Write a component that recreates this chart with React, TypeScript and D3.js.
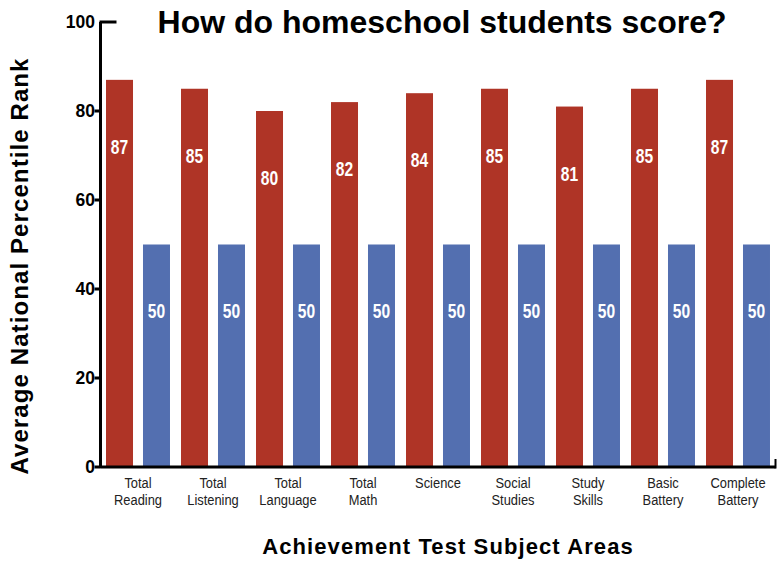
import React, { useEffect, useRef } from "react";
import * as d3 from "d3";

const categories = [
  ["Total", "Reading"],
  ["Total", "Listening"],
  ["Total", "Language"],
  ["Total", "Math"],
  ["Science"],
  ["Social", "Studies"],
  ["Study", "Skills"],
  ["Basic", "Battery"],
  ["Complete", "Battery"],
];
const homeschoolScores = [87, 85, 80, 82, 84, 85, 81, 85, 87];
const nationalScores = [50, 50, 50, 50, 50, 50, 50, 50, 50];
const seriesKeys = ["homeschool", "national"];
const seriesColors = ["#AF3426", "#536FB0"];
const yTicks = [0, 20, 40, 60, 80, 100];

const FONT = "'Liberation Sans', Arial, Helvetica, sans-serif";

const App = () => {
  const svgRef = useRef<SVGSVGElement>(null);

  useEffect(() => {
    const svg = d3.select(svgRef.current);
    svg.selectAll("*").remove();

    const width = 779;
    const height = 563;
    const margin = { top: 22, right: 3.5, bottom: 96, left: 100.5 };
    const x0 = margin.left;
    const x1 = width - margin.right;
    const yBottom = height - margin.bottom;

    const keys = categories.map((c) => c.join(" "));

    const xScale = d3
      .scaleBand()
      .domain(keys)
      .range([x0, x1])
      .paddingInner(0.147)
      .paddingOuter(0.0735);

    const xSub = d3
      .scaleBand()
      .domain(seriesKeys)
      .range([0, xScale.bandwidth()])
      .paddingInner(0.27);

    const yScale = d3.scaleLinear().domain([0, 100]).range([yBottom, margin.top]);

    const rows = keys.map((k, i) => ({
      key: k,
      values: [homeschoolScores[i], nationalScores[i]],
    }));

    // bars
    const groups = svg
      .selectAll("g.group")
      .data(rows)
      .enter()
      .append("g")
      .attr("class", "group")
      .attr("transform", (d) => `translate(${xScale(d.key)},0)`);

    groups
      .selectAll("rect")
      .data((d) => d.values.map((v, j) => ({ s: seriesKeys[j], v, j })))
      .enter()
      .append("rect")
      .attr("x", (d) => xSub(d.s)!)
      .attr("y", (d) => yScale(d.v))
      .attr("width", xSub.bandwidth())
      .attr("height", (d) => yBottom - yScale(d.v))
      .attr("fill", (d) => seriesColors[d.j]);

    // value labels inside bars (condensed look via horizontal scale)
    groups
      .selectAll("text.val")
      .data((d) => d.values.map((v, j) => ({ s: seriesKeys[j], v })))
      .enter()
      .append("text")
      .attr("class", "val")
      .attr(
        "transform",
        (d) =>
          `translate(${xSub(d.s)! + xSub.bandwidth() / 2},${yScale(d.v - 15)}) scale(0.78,1)`
      )
      .attr("dy", "0.36em")
      .attr("text-anchor", "middle")
      .attr("fill", "#fff")
      .attr("font-family", FONT)
      .attr("font-weight", "bold")
      .attr("font-size", 20)
      .text((d) => d.v);

    // axes
    const axisColor = "#000";
    svg
      .append("line")
      .attr("x1", x0)
      .attr("x2", x0)
      .attr("y1", yScale(100))
      .attr("y2", yBottom + 1)
      .attr("stroke", axisColor)
      .attr("stroke-width", 3);
    svg
      .append("line")
      .attr("x1", x0)
      .attr("x2", x1)
      .attr("y1", yBottom)
      .attr("y2", yBottom)
      .attr("stroke", axisColor)
      .attr("stroke-width", 3);
    svg
      .append("line")
      .attr("x1", x1)
      .attr("x2", x1)
      .attr("y1", yBottom + 1.5)
      .attr("y2", yBottom - 8)
      .attr("stroke", axisColor)
      .attr("stroke-width", 2);

    yTicks.forEach((t) => {
      const y = yScale(t);
      svg
        .append("line")
        .attr("x1", t === 100 ? x0 - 1 : x0 - 6)
        .attr("x2", t === 100 ? x0 + 16 : x0)
        .attr("y1", y)
        .attr("y2", y)
        .attr("stroke", axisColor)
        .attr("stroke-width", 3);
      svg
        .append("text")
        .attr("x", x0 - 5.5)
        .attr("y", y)
        .attr("dy", "0.36em")
        .attr("text-anchor", "end")
        .attr("font-family", FONT)
        .attr("font-weight", "bold")
        .attr("font-size", 17.5)
        .text(t);
    });

    // category labels, one text per line
    categories.forEach((lines) => {
      const cx = xScale(lines.join(" "))! + xScale.bandwidth() / 2;
      lines.forEach((line, i) => {
        svg
          .append("text")
          .attr("transform", `translate(${cx},${yBottom + 20.5 + i * 17}) scale(0.86,1)`)
          .attr("text-anchor", "middle")
          .attr("font-family", FONT)
          .attr("font-size", 15)
          .attr("fill", "#222")
          .text(line);
      });
    });

    // titles
    svg
      .append("text")
      .attr("x", 442)
      .attr("y", 33)
      .attr("text-anchor", "middle")
      .attr("font-family", FONT)
      .attr("font-weight", "bold")
      .attr("font-size", 32)
      .text("How do homeschool students score?");

    svg
      .append("text")
      .attr("x", 448)
      .attr("y", 554)
      .attr("text-anchor", "middle")
      .attr("font-family", FONT)
      .attr("font-weight", "bold")
      .attr("font-size", 22)
      .attr("letter-spacing", 1.1)
      .text("Achievement Test Subject Areas");

    svg
      .append("text")
      .attr("transform", "translate(28,266) rotate(-90)")
      .attr("text-anchor", "middle")
      .attr("font-family", FONT)
      .attr("font-weight", "bold")
      .attr("font-size", 24)
      .attr("letter-spacing", 1.1)
      .text("Average National Percentile Rank");
  }, []);

  return (
    <svg
      ref={svgRef}
      width="779"
      height="563"
      style={{ position: "absolute", left: 0, top: 0, background: "#fff" }}
    ></svg>
  );
};

export default App;
